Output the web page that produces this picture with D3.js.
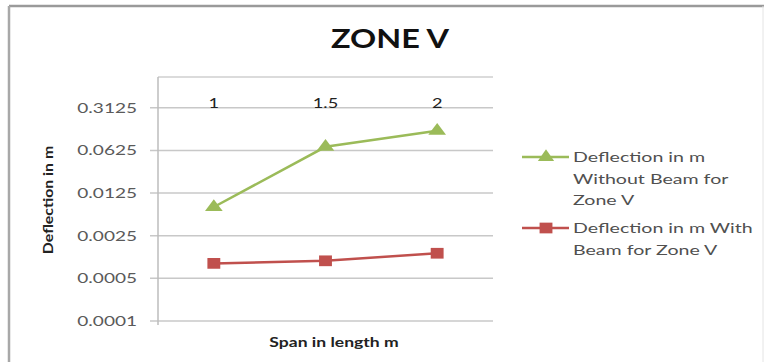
<!DOCTYPE html>
<html>
<head>
<meta charset="utf-8">
<script src="https://cdn.jsdelivr.net/npm/d3@7"></script>
<style>
  html, body { margin: 0; padding: 0; background: #fff; }
  svg { display: block; }
  text { font-family: Lato, "Open Sans", sans-serif; }
</style>
</head>
<body>
<svg id="chart" width="766" height="362"></svg>
<script>
// Span categories (m)
const spans = ["1", "1.5", "2"];
// Deflection (m) without beam, Zone V
const withoutBeam = [0.0074, 0.0717, 0.131];
// Deflection (m) with beam, Zone V
const withBeam = [0.00088, 0.00097, 0.00129];
// Log-5 axis ticks
const yTicks = [0.0001, 0.0005, 0.0025, 0.0125, 0.0625, 0.3125];
const yTickLabels = ["0.0001", "0.0005", "0.0025", "0.0125", "0.0625", "0.3125"];
const seriesNames = [
  ["Deflection in m", "Without Beam for", "Zone V"],
  ["Deflection in m With", "Beam for Zone V"]
];

const svg = d3.select("#chart");
const plot = { left: 158, right: 493, top: 77, bottom: 321 };

const x = d3.scaleBand().domain(spans).range([plot.left, plot.right]).padding(0);
const y = d3.scaleLog().base(5).domain([0.0001, 1]).range([plot.bottom, plot.top]);
const cx = d => x(d) + x.bandwidth() / 2;

// text helper with horizontal stretch
function label(g, str, px, py, opts) {
  const o = Object.assign({ size: 14, sx: 1.35, anchor: "start", weight: "normal", fill: "#404040", rotate: 0 }, opts || {});
  return g.append("text")
    .attr("transform", `translate(${px},${py}) rotate(${o.rotate}) scale(${o.sx},1)`)
    .attr("text-anchor", o.anchor)
    .attr("font-size", o.size)
    .attr("font-weight", o.weight)
    .attr("fill", o.fill)
    .text(str);
}

// outer chart frame: strong top/left edges, faint right edge
svg.append("line").attr("x1", 9).attr("x2", 764).attr("y1", 6).attr("y2", 6)
  .attr("stroke", "#9a9a9a").attr("stroke-width", 2.5);
svg.append("line").attr("x1", 9).attr("x2", 9).attr("y1", 6).attr("y2", 362)
  .attr("stroke", "#a8a8a8").attr("stroke-width", 2.5);
svg.append("line").attr("x1", 763).attr("x2", 763).attr("y1", 6).attr("y2", 362)
  .attr("stroke", "#e4e4e4").attr("stroke-width", 1);

// title
label(svg, "ZONE V", 390, 48, { size: 27, sx: 1.2, anchor: "middle", weight: "bold", fill: "#111" });

// gridlines with tick marks
svg.append("g").selectAll("line").data(yTicks).join("line")
  .attr("x1", plot.left - 8).attr("x2", plot.right)
  .attr("y1", d => y(d)).attr("y2", d => y(d))
  .attr("stroke", "#c8c8c8").attr("stroke-width", 1.5);

// top horizontal axis (crosses at 1)
svg.append("line").attr("x1", plot.left).attr("x2", plot.right)
  .attr("y1", y(1)).attr("y2", y(1)).attr("stroke", "#cfcfcf").attr("stroke-width", 1.5);

// vertical axis
svg.append("line").attr("x1", plot.left).attr("x2", plot.left)
  .attr("y1", plot.top).attr("y2", plot.bottom + 4).attr("stroke", "#bdbdbd").attr("stroke-width", 1.5);

// y tick labels
const yl = svg.append("g");
yTicks.forEach((t, i) => label(yl, yTickLabels[i], 137, y(t) + 5, { size: 14, sx: 1.36, anchor: "end", fill: "#5a5a5a" }));

// category labels
const xl = svg.append("g");
spans.forEach(s => label(xl, s, cx(s), 108, { size: 14, sx: 1.3, anchor: "middle", fill: "#222" }));

// axis titles
label(svg, "Span in length m", 334, 347, { size: 13, sx: 1.35, anchor: "middle", weight: "bold", fill: "#222" });
label(svg, "Deflection in m", 53, 200, { size: 13, sx: 1.22, anchor: "middle", weight: "bold", fill: "#222", rotate: -90 });

const green = "#9BBB59", red = "#C0504D";
const line = d3.line().x((d, i) => cx(spans[i])).y(d => y(d));
const tri = d3.symbol().type(d3.symbolTriangle).size(80);
const sq = d3.symbol().type(d3.symbolSquare).size(115);

svg.append("path").datum(withoutBeam).attr("d", line)
  .attr("fill", "none").attr("stroke", green).attr("stroke-width", 2.5);
svg.append("g").selectAll("path").data(withoutBeam).join("path")
  .attr("d", tri).attr("transform", (d, i) => `translate(${cx(spans[i])},${y(d)}) scale(1.3,1)`)
  .attr("fill", green);

svg.append("path").datum(withBeam).attr("d", line)
  .attr("fill", "none").attr("stroke", red).attr("stroke-width", 2.5);
svg.append("g").selectAll("path").data(withBeam).join("path")
  .attr("d", sq).attr("transform", (d, i) => `translate(${cx(spans[i])},${y(d)}) scale(1.2,1)`)
  .attr("fill", red);

// legend
const leg = svg.append("g");
const legY = [157, 228];
const colors = [green, red];
[tri, sq].forEach((sym, k) => {
  leg.append("line").attr("x1", 522).attr("x2", 569).attr("y1", legY[k]).attr("y2", legY[k])
    .attr("stroke", colors[k]).attr("stroke-width", 2.5);
  leg.append("path").attr("d", sym).attr("transform", `translate(546,${legY[k]}) scale(1.2,1)`).attr("fill", colors[k]);
  seriesNames[k].forEach((t, j) => label(leg, t, 573, legY[k] + 5 + j * 21.5, { size: 14, sx: 1.4, fill: "#505050" }));
});
</script>
</body>
</html>
